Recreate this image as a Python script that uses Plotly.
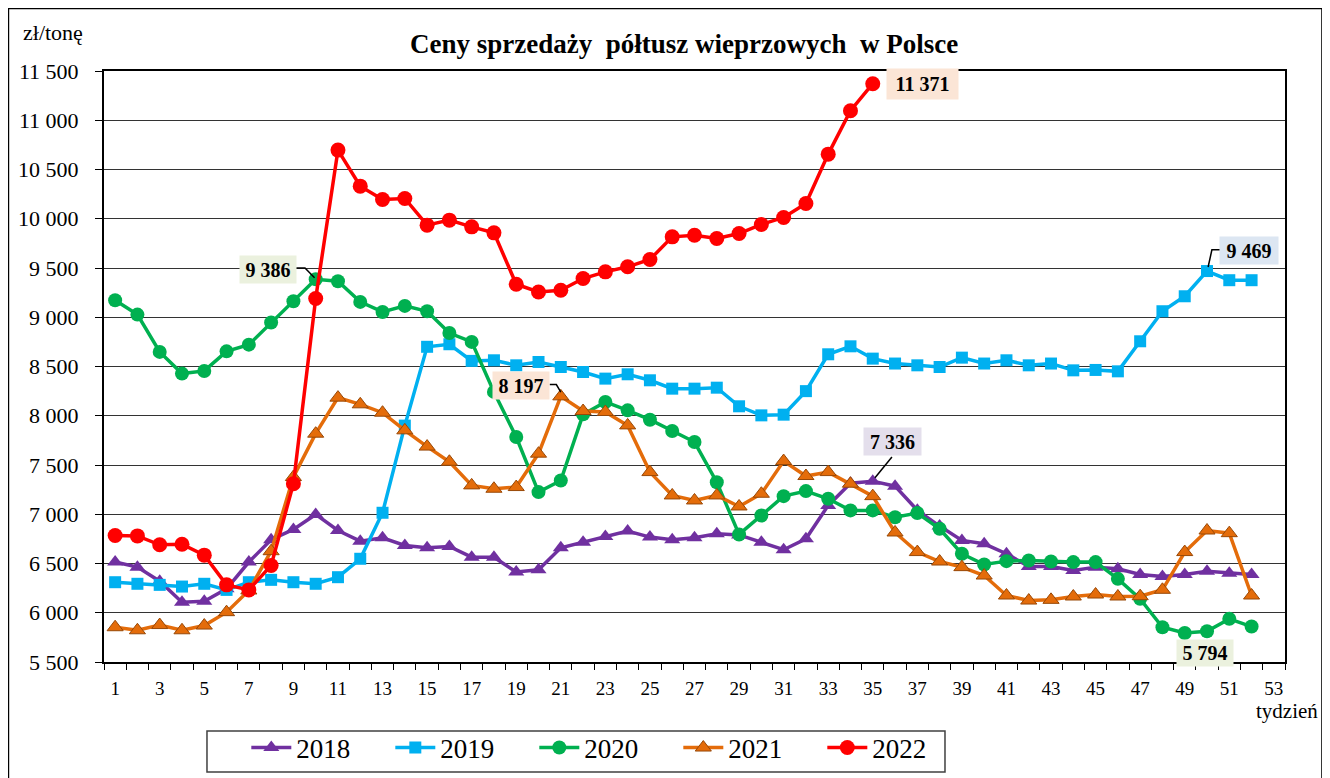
import plotly.graph_objects as go

weeks = list(range(1, 53))
weeks_2022 = list(range(1, 36))

y2018 = [6515, 6463, 6320, 6107, 6117, 6243, 6515, 6741, 6846, 6998,
         6835, 6727, 6761, 6683, 6660, 6673, 6564, 6564, 6413, 6436,
         6660, 6717, 6774, 6829, 6768, 6741, 6761, 6802, 6790, 6717,
         6640, 6751, 7090, 7315, 7336, 7285, 7040, 6880, 6734, 6700,
         6599, 6470, 6470, 6429, 6463, 6446, 6388, 6368, 6388, 6422,
         6402, 6388]
y2019 = [6310, 6294, 6283, 6266, 6294, 6232, 6310, 6334, 6310, 6294,
         6361, 6548, 7015, 7900, 8700, 8726, 8557, 8563, 8512, 8546,
         8495, 8444, 8377, 8421, 8360, 8275, 8275, 8285, 8096, 8004,
         8011, 8250, 8624, 8705, 8580, 8530, 8512, 8495, 8590, 8530,
         8563, 8512, 8530, 8461, 8465, 8451, 8756, 9061, 9213, 9469,
         9376, 9376]
y2020 = [9173, 9027, 8648, 8428, 8455, 8654, 8722, 8946, 9163, 9386,
         9365, 9156, 9054, 9115, 9061, 8840, 8750, 8242, 7784, 7225,
         7343, 8014, 8140, 8055, 7960, 7845, 7733, 7325, 6795, 6988,
         7184, 7235, 7157, 7039, 7039, 6970, 7012, 6853, 6599, 6490,
         6524, 6531, 6520, 6514, 6514, 6344, 6141, 5853, 5794, 5812,
         5938, 5860]
y2021 = [5853, 5822, 5875, 5822, 5870, 6006, 6226, 6625, 7378, 7818,
         8184, 8116, 8031, 7852, 7687, 7533, 7293, 7259, 7276, 7615,
         8197, 8048, 8038, 7902, 7428, 7191, 7140, 7191, 7079, 7208,
         7540, 7388, 7428, 7310, 7184, 6815, 6616, 6520, 6463, 6378,
         6175, 6124, 6131, 6165, 6185, 6165, 6168, 6233, 6616, 6835,
         6808, 6175]
y2022 = [6785, 6780, 6690, 6695, 6585, 6283, 6232, 6480, 7310, 9190,
         10697, 10331, 10196, 10206, 9935, 9986, 9918, 9857, 9335, 9257,
         9274, 9393, 9461, 9512, 9586, 9816, 9833, 9800, 9850, 9942,
         10013, 10155, 10656, 11097, 11371]

x_tick_vals = list(range(1, 54, 2))
x_tick_text = [str(v) for v in x_tick_vals]
y_tick_vals = list(range(5500, 11501, 500))
y_tick_text = ["5 500", "6 000", "6 500", "7 000", "7 500", "8 000", "8 500",
               "9 000", "9 500", "10 000", "10 500", "11 000", "11 500"]

FONT = "'Times New Roman', 'Liberation Serif', 'DejaVu Serif', serif"

fig = go.Figure()
fig.add_trace(go.Scatter(x=weeks, y=y2018, name="2018", mode="lines+markers",
                         line=dict(color="#7030A0", width=3.5),
                         marker=dict(symbol="triangle-up", size=14, color="#7030A0")))
fig.add_trace(go.Scatter(x=weeks, y=y2019, name="2019", mode="lines+markers",
                         line=dict(color="#00B0F0", width=3.5),
                         marker=dict(symbol="square", size=12, color="#00B0F0")))
fig.add_trace(go.Scatter(x=weeks, y=y2020, name="2020", mode="lines+markers",
                         line=dict(color="#00B050", width=3.5),
                         marker=dict(symbol="circle", size=14, color="#00B050")))
fig.add_trace(go.Scatter(x=weeks, y=y2021, name="2021", mode="lines+markers",
                         line=dict(color="#E46C0A", width=3.5),
                         marker=dict(symbol="triangle-up", size=14, color="#E46C0A",
                                     line=dict(color="#984807", width=1))))
fig.add_trace(go.Scatter(x=weeks_2022, y=y2022, name="2022", mode="lines+markers",
                         line=dict(color="#FF0000", width=3.5),
                         marker=dict(symbol="circle", size=15, color="#FF0000")))

fig.update_layout(
    width=1322, height=770,
    margin=dict(l=96, r=45, t=63, b=116, autoexpand=False),
    paper_bgcolor="white", plot_bgcolor="white",
    font=dict(family=FONT, color="black"),
    showlegend=True,
    legend=dict(orientation="h", x=0.1205, xanchor="left", y=-0.1455, yanchor="middle",
                font=dict(family=FONT, size=27, color="black"),
                bgcolor="rgba(0,0,0,0)", borderwidth=0,
                entrywidth=89, entrywidthmode="pixels", itemwidth=40),
)

fig.update_xaxes(range=[0.5, 53.5], tickmode="array", tickvals=x_tick_vals,
                 ticktext=x_tick_text, ticks="", showgrid=False, zeroline=False,
                 showline=True, linecolor="black", linewidth=2, mirror=True,
                 tickfont=dict(family=FONT, size=19, color="black"),
                 ticklabelstandoff=8,
                 minor=dict(tickmode="array", tickvals=[i + 0.5 for i in range(0, 54)],
                            ticks="outside", ticklen=6, tickcolor="black", tickwidth=1,
                            showgrid=False))
fig.update_yaxes(range=[5500, 11500], tickmode="array", tickvals=y_tick_vals,
                 ticktext=y_tick_text, ticks="outside", ticklen=7, tickcolor="black",
                 showgrid=True, gridcolor="#333333", gridwidth=1, zeroline=False,
                 showline=True, linecolor="black", linewidth=2, mirror=True,
                 tickfont=dict(family=FONT, size=22, color="black"),
                 ticklabelstandoff=12)

# outer chart border and legend box
fig.add_shape(type="rect", xref="paper", yref="paper", x0=-0.0809, x1=1.0313,
              y0=-0.21, y1=1.1058, line=dict(color="black", width=1.5), layer="below")
fig.add_shape(type="rect", xref="paper", yref="paper", x0=0.0872, x1=0.7121,
              y0=-0.1861, y1=-0.1168, line=dict(color="#404040", width=1.5))

# texts
fig.add_annotation(xref="paper", yref="paper", x=0.4911, y=1.0457, showarrow=False,
                   text="<b>Ceny sprzedaży\u00a0 półtusz wieprzowych\u00a0 w Polsce</b>",
                   font=dict(family=FONT, size=27, color="black"),
                   xanchor="center", yanchor="middle")
fig.add_annotation(xref="paper", yref="paper", x=-0.0703, y=1.0643, showarrow=False,
                   text="zł/tonę", font=dict(family=FONT, size=22, color="black"),
                   xanchor="left", yanchor="middle")
fig.add_annotation(xref="paper", yref="paper", x=1.0296, y=-0.0829, showarrow=False,
                   text="tydzień", font=dict(family=FONT, size=21, color="black"),
                   xanchor="right", yanchor="middle")

# value labels
labels = [
    ("9 386", 7.86, 9480, "#EBF1DE", 56, 27),
    ("8 197", 19.21, 8307, "#FBE5D6", 56, 27),
    ("7 336", 35.89, 7734, "#E4DFEC", 57, 27),
    ("11 371", 37.23, 11373, "#FBE5D6", 71, 30),
    ("9 469", 51.88, 9673, "#DCE6F2", 58, 27),
    ("5 794", 49.93, 5591, "#EBF1DE", 56, 26),
]
for txt, lx, ly, bg, w, h in labels:
    fig.add_annotation(x=lx, y=ly, xref="x", yref="y", showarrow=False,
                       text="<b>" + txt + "</b>", bgcolor=bg, borderpad=0,
                       width=w, height=h, align="center", valign="middle",
                       font=dict(family=FONT, size=20, color="black"))

# leader lines
leaders = [
    [(9.12, 9500), (9.52, 9500), (9.95, 9400)],
    [(20.5, 8317), (20.8, 8317), (21.0, 8240)],
    [(35.86, 7581), (35.1, 7370)],
    [(50.58, 9685), (50.22, 9685), (50.05, 9510)],
]
for pts in leaders:
    path = "M " + " L ".join(f"{px},{py}" for px, py in pts)
    fig.add_shape(type="path", path=path, xref="x", yref="y",
                  line=dict(color="black", width=1.5))

fig.write_html("out.html")
